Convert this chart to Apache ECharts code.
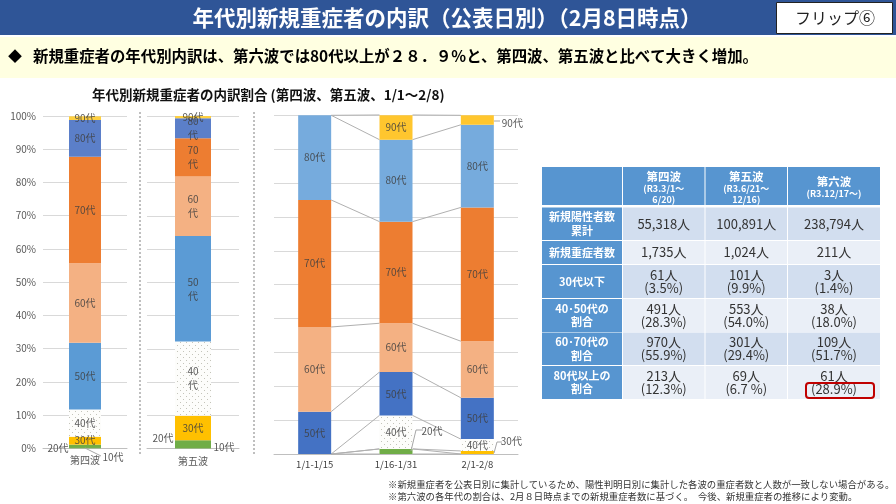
<!DOCTYPE html>
<html>
<head>
<meta charset="utf-8">
<style>html,body{margin:0;padding:0;background:#fff}#display{width:896px;height:504px}</style>
<script src="https://cdn.jsdelivr.net/npm/echarts@6/dist/echarts.min.js"></script>
</head>
<body>
<div id="display"></div>
<script>
// 年代（積み上げの下から順）
var ageNames = ['10代', '20代', '30代', '40代', '50代', '60代', '70代', '80代', '90代'];
// 第四波・第五波の割合(%)
var wave4Shares = [0.1, 1.0, 2.4, 8.2, 20.1, 23.9, 32.0, 11.1, 1.1];
var wave5Shares = [0.1, 2.4, 7.4, 22.3, 31.7, 17.9, 11.5, 6.0, 0.7];
// 第六波の期間別割合(%)
var periodNames = ['1/1-1/15', '1/16-1/31', '2/1-2/8'];
var period1Shares = [0, 0, 0, 0, 12.5, 25.0, 37.5, 25.0, 0];
var period2Shares = [0, 1.5, 0, 9.9, 12.8, 14.4, 30.0, 24.2, 7.3];
var period3Shares = [0, 0, 0.9, 3.5, 12.2, 16.7, 39.5, 24.4, 2.8];
// 表
var tableWaves = ['第四波', '第五波', '第六波'];
var tablePeriods = ['(R3.3/1～\n6/20)', '(R3.6/21～\n12/16)', '(R3.12/17～)'];
var tableRowHeads = ['新規陽性者数\n累計', '新規重症者数', '30代以下', '40･50代の\n割合', '60･70代の\n割合', '80代以上の\n割合'];
var wave4Cells = ['55,318人', '1,735人', '61人\n(3.5%)', '491人\n(28.3%)', '970人\n(55.9%)', '213人\n(12.3%)'];
var wave5Cells = ['100,891人', '1,024人', '101人\n(9.9%)', '553人\n(54.0%)', '301人\n(29.4%)', '69人\n(6.7 %)'];
var wave6Cells = ['238,794人', '211人', '3人\n(1.4%)', '38人\n(18.0%)', '109人\n(51.7%)', '61人\n(28.9%)'];

var FONT = '"Noto Sans CJK JP", sans-serif';
var LABEL = 'rgba(64,64,64,0.85)';

// 40代のドット模様
function dotPattern() {
    var c = document.createElement('canvas');
    c.width = 6; c.height = 6;
    var ctx = c.getContext('2d');
    ctx.fillStyle = '#fdfdfb';
    ctx.fillRect(0, 0, 6, 6);
    ctx.fillStyle = '#c4c4ba';
    ctx.fillRect(0, 0, 1, 1);
    ctx.fillRect(3, 3, 1, 1);
    return { image: c, repeat: 'repeat' };
}
var dots = dotPattern();
var wavePalette = ['#70AD47', '#70AD47', '#FFC000', dots, '#5B9BD5', '#F4B183', '#ED7D31', '#5B7FC9', '#FFD040'];
var periodPalette = ['#70AD47', '#70AD47', '#FFC000', dots, '#4472C4', '#F4B183', '#ED7D31', '#76ABDD', '#FFC62E'];

function stacked(axisIndex, name, palette, rows, barWidth, wrap, tweaks) {
    return ageNames.map(function (age, a) {
        return {
            type: 'bar', name: age, stack: name, xAxisIndex: axisIndex, yAxisIndex: axisIndex,
            barWidth: barWidth, itemStyle: { color: palette[a] },
            data: rows.map(function (r, i) {
                var t = tweaks[i + '-' + a];
                var item = { value: r[a], label: { show: r[a] > 0 } };
                if (t) { item.label.offset = t; item.label.color = '#595959'; }
                return item;
            }),
            label: {
                position: 'inside', fontSize: 10, fontFamily: FONT, color: LABEL, lineHeight: 14,
                formatter: function () {
                    return wrap && a > 2 && a < 8 ? age.replace('代', '\n代') : age;
                }
            }
        };
    });
}

// 期間の間を結ぶ線
var connectorData = [];
[[period1Shares, period2Shares], [period2Shares, period3Shares]].forEach(function (pair, i) {
    var top1 = 0, top2 = 0;
    ageNames.forEach(function (age, a) {
        top1 += pair[0][a];
        top2 += pair[1][a];
        connectorData.push([i, top1, top2]);
    });
});
var BAR3 = 33;
var connectors = {
    type: 'custom', xAxisIndex: 2, yAxisIndex: 2, silent: true, z: 1,
    encode: { x: 0, y: [1, 2] },
    data: connectorData,
    renderItem: function (params, api) {
        var a = api.coord([api.value(0), api.value(1)]);
        var b = api.coord([api.value(0) + 1, api.value(2)]);
        return {
            type: 'line',
            shape: { x1: a[0] + BAR3 / 2, y1: a[1], x2: b[0] - BAR3 / 2, y2: b[1] },
            style: { stroke: '#B0B0B0', lineWidth: 1 }
        };
    }
};

// ---- 図形とテキスト ----
var g = [];
function rect(x, y, w, h, fill) {
    g.push({ type: 'rect', shape: { x: x, y: y, width: w, height: h }, style: { fill: fill }, silent: true });
}
function text(x, y, s, size, color, weight, align, lh) {
    g.push({
        type: 'text', x: x, y: y, silent: true, z: 5,
        style: {
            text: s, fontSize: size, fill: color, fontWeight: weight || 'normal', fontFamily: FONT,
            align: align || 'left', verticalAlign: 'middle', lineHeight: lh || size * 1.2
        }
    });
}
function poly(points, color) {
    g.push({ type: 'polyline', shape: { points: points }, style: { stroke: color || '#A6A6A6', lineWidth: 1, fill: null }, silent: true, z: 5 });
}

rect(0, 0, 896, 35, '#2F5597');
rect(0, 37, 896, 41, '#FFFFE1');
text(447, 17.5, '年代別新規重症者の内訳（公表日別）（2月8日時点）', 21.5, '#fff', 'bold', 'center');
g.push({ type: 'rect', shape: { x: 776.5, y: 2.5, width: 116, height: 31 }, style: { fill: '#fff', stroke: '#222', lineWidth: 1 }, silent: true });
text(835, 18, 'フリップ⑥', 16, '#222', 'normal', 'center');
text(8, 56, '◆', 14, '#000', 'bold');
text(33, 56, '新規重症者の年代別内訳は、第六波では80代以上が２８．９%と、第四波、第五波と比べて大きく増加。', 15.4, '#000', 'bold');
text(92, 95, '年代別新規重症者の内訳割合 (第四波、第五波、1/1～2/8)', 13.5, '#111', 'bold');

// 点線の仕切り
[140, 254].forEach(function (x) {
    g.push({
        type: 'line', shape: { x1: x, y1: 112, x2: x, y2: 455 }, silent: true,
        style: { stroke: '#BFBFBF', lineWidth: 2, lineDash: [2, 2] }
    });
});

// 引き出し線
poly([[85, 448], [101, 456]]);
poly([[411, 451], [416, 430], [423, 430]]);
poly([[494, 121], [500, 121]]);
poly([[494, 453], [497, 442], [502, 442]]);

// 表
var colX = [542, 623, 705.5, 788, 880];
var headY = [167, 205];
var rowY = [[207.5, 240], [241, 264], [265, 298], [299, 332], [332.5, 365], [366, 399]];
var HEAD = '#5795D0';
var cols = [wave4Cells, wave5Cells, wave6Cells];
rect(colX[0], headY[0], colX[1] - colX[0] - 1, headY[1] - headY[0], HEAD);
tableWaves.forEach(function (w, c) {
    var x = colX[c + 1], wd = colX[c + 2] - x - (c < 2 ? 1 : 0), mid = x + wd / 2;
    rect(x, headY[0], wd, headY[1] - headY[0], HEAD);
    var two = tablePeriods[c].indexOf('\n') > 0;
    text(mid, two ? 177 : 182, w, 11.5, '#fff', 'bold', 'center');
    text(mid, two ? 194 : 193.5, tablePeriods[c], 9, '#fff', 'bold', 'center', 11);
});
tableRowHeads.forEach(function (h, r) {
    var y0 = rowY[r][0], y1 = rowY[r][1], midY = (y0 + y1) / 2;
    rect(colX[0], y0, colX[1] - colX[0] - 1, y1 - y0, HEAD);
    text((colX[0] + colX[1] - 1) / 2, midY, h, 11, '#fff', 'bold', 'center', 13.5);
    cols.forEach(function (cells, c) {
        var x = colX[c + 1], wd = colX[c + 2] - x - (c < 2 ? 1 : 0);
        rect(x, y0, wd, y1 - y0, r % 2 === 0 ? '#D2DEEF' : '#EAEFF7');
        text(x + wd / 2, midY, cells[r], 13, '#333', 'normal', 'center', 13.5);
    });
});
g.push({
    type: 'rect', shape: { x: 806, y: 383, width: 68, height: 15, r: 3 }, silent: true, z: 6,
    style: { fill: null, stroke: '#C00000', lineWidth: 2 }
});

// 注記
text(388, 484, '※新規重症者を公表日別に集計しているため、陽性判明日別に集計した各波の重症者数と人数が一致しない場合がある。', 9.4, '#333');
text(388, 496, '※第六波の各年代の割合は、2月８日時点までの新規重症者数に基づく。　今後、新規重症者の推移により変動。', 9.4, '#333');

function yAxis(i, showLabel) {
    return {
        type: 'value', gridIndex: i, min: 0, max: 100, interval: 10,
        axisLine: { show: false }, axisTick: { show: false },
        axisLabel: { show: showLabel, formatter: '{value}%', fontSize: 10, color: '#595959', margin: 7, fontFamily: FONT },
        splitLine: { lineStyle: { color: '#D9D9D9', width: 1 } }
    };
}
function xAxis(i, names, size, color, margin) {
    return {
        type: 'category', gridIndex: i, data: names,
        axisTick: { show: false }, axisLine: { lineStyle: { color: '#BFBFBF' } },
        axisLabel: { fontSize: size, color: color, margin: margin, interval: 0, fontFamily: FONT }
    };
}

var myDisplay = echarts.init(document.getElementById('display'));
myDisplay.setOption({
    animation: false,
    backgroundColor: '#fff',
    grid: [
        { left: 43, top: 116, width: 84, height: 332.3 },
        { left: 147, top: 116, width: 92, height: 332.6 },
        { left: 274, top: 115.3, width: 244, height: 338.7 }
    ],
    xAxis: [xAxis(0, ['第四波'], 10, '#595959', 7), xAxis(1, ['第五波'], 10, '#595959', 8), xAxis(2, periodNames, 9.5, '#404040', 6)],
    yAxis: [yAxis(0, true), yAxis(1, false), yAxis(2, false)],
    series: []
        .concat(stacked(0, 'w4', wavePalette, [wave4Shares], 32, false, { '0-0': [28, 9], '0-1': [-27, 1.5] }))
        .concat(stacked(1, 'w5', wavePalette, [wave5Shares], 36, true, { '0-0': [31, -1], '0-1': [-30, -6] }))
        .concat(stacked(2, 'w6', periodPalette, [period1Shares, period2Shares, period3Shares], BAR3, false,
            { '1-1': [36, -20], '2-8': [35, 3], '2-2': [34, -11] }))
        .concat([connectors]),
    graphic: { elements: g }
});
</script>
</body>
</html>
